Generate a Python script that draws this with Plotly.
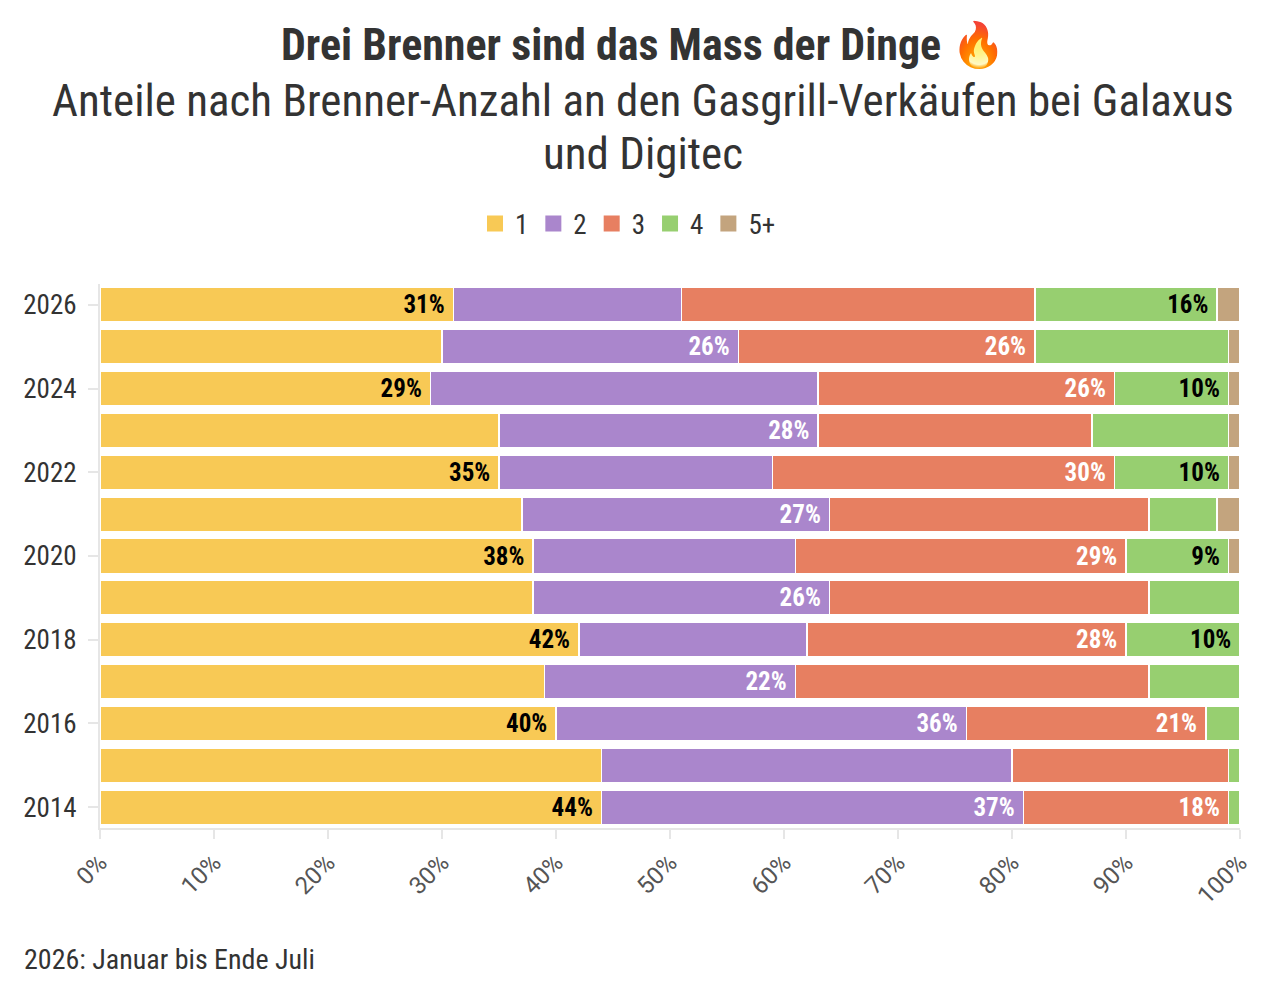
import plotly.graph_objects as go

# years on the y axis (bottom to top)
years = [2014, 2015, 2016, 2017, 2018, 2019, 2020, 2021, 2022, 2023, 2024, 2025, 2026]

# share of sales per number of burners, in percent
b1 = [44, 44, 40, 39, 42, 38, 38, 37, 35, 35, 29, 30, 31]
b2 = [37, 36, 36, 22, 20, 26, 23, 27, 24, 28, 34, 26, 20]
b3 = [18, 19, 21, 31, 28, 28, 29, 28, 30, 24, 26, 26, 31]
b4 = [1, 1, 3, 8, 10, 8, 9, 6, 10, 12, 10, 17, 16]
b5 = [0, 0, 0, 0, 0, 0, 1, 2, 1, 1, 1, 1, 2]

# which values get a label in the bar
lab1 = ["44%", "", "40%", "", "42%", "", "38%", "", "35%", "", "29%", "", "31%"]
lab2 = ["37%", "", "36%", "22%", "", "26%", "", "27%", "", "28%", "", "26%", ""]
lab3 = ["18%", "", "21%", "", "28%", "", "29%", "", "30%", "", "26%", "26%", ""]
lab4 = ["", "", "", "", "10%", "", "9%", "", "10%", "", "10%", "", "16%"]
lab5 = [""] * 13

series = ["1", "2", "3", "4", "5+"]
colors = ["#F8C955", "#AA86CC", "#E77F61", "#97CF70", "#C3A47E"]
text_colors = ["#000000", "#ffffff", "#ffffff", "#000000", "#000000"]

xticks = list(range(0, 101, 10))
xtick_text = [f"{v}%" for v in xticks]
yticks = list(range(2014, 2027, 2))

font_c = "Roboto Condensed, Liberation Sans Narrow, DejaVu Sans Condensed, Roboto, sans-serif"

# page is drawn with an 8px body margin, so work in page pixels and convert
W, H = 1256, 974
L, R, T, B = 100 - 8, 1240 - 8, 284 - 8, 828.5 - 8


def px(xp):
    return (xp - 8 - L) / (R - L)


def py(yp):
    return (B - (yp - 8)) / (B - T)


fig = go.Figure()
for name, vals, labs, col, tcol in zip(series, [b1, b2, b3, b4, b5],
                                       [lab1, lab2, lab3, lab4, lab5],
                                       colors, text_colors):
    fig.add_trace(go.Bar(
        y=years, x=vals, name=name, orientation="h", showlegend=False,
        marker=dict(color=col, line=dict(color="white", width=1.5)),
        text=labs, texttemplate="<b>%{text}</b>\u00a0",
        textposition="inside", insidetextanchor="end",
        textfont=dict(color=tcol, size=25, family=font_c),
        constraintext="none", cliponaxis=False,
        hoverinfo="skip",
    ))
    # bigger legend swatch
    fig.add_trace(go.Scatter(
        x=[None], y=[None], mode="markers", name=name,
        marker=dict(symbol="square", size=16, color=col),
        hoverinfo="skip",
    ))

fig.update_layout(
    width=W, height=H,
    barmode="stack", bargap=0.175,
    paper_bgcolor="white", plot_bgcolor="white",
    font=dict(family=font_c, color="#333333"),
    margin=dict(l=L, r=W - R, t=T, b=H - B),
    legend=dict(orientation="h", xref="container", yref="container",
                x=620 / W, xanchor="center", y=1 - 216 / H, yanchor="middle",
                font=dict(size=27, color="#333333"), traceorder="normal",
                itemsizing="trace", itemwidth=30, itemclick=False),
)

fig.update_xaxes(
    range=[0, 100], tickmode="array", tickvals=xticks, ticktext=xtick_text,
    tickangle=-45, showgrid=False, zeroline=False,
    showline=True, linecolor="#e6e6e6", linewidth=2,
    ticks="outside", ticklen=9, tickcolor="#e6e6e6", tickwidth=2,
    tickfont=dict(size=24, color="#555555", family="Roboto, sans-serif"),
)
fig.update_yaxes(
    range=[2013.5, 2026.5], tickmode="array", tickvals=yticks,
    showgrid=False, zeroline=False,
    showline=True, linecolor="#e6e6e6", linewidth=2,
    ticks="outside", ticklen=10, tickcolor="#e6e6e6", tickwidth=2,
    ticklabelstandoff=6,
    tickfont=dict(size=27, color="#333333"),
)

# title, subtitle and note
fig.add_annotation(text="<b>Drei Brenner sind das Mass der Dinge 🔥</b>",
                   xref="paper", yref="paper", x=px(643), y=py(45),
                   showarrow=False, font=dict(size=44, color="#333333"),
                   xanchor="center", yanchor="middle")
fig.add_annotation(text="Anteile nach Brenner-Anzahl an den Gasgrill-Verkäufen bei Galaxus",
                   xref="paper", yref="paper", x=px(643), y=py(100),
                   showarrow=False, font=dict(size=45, color="#333333"),
                   xanchor="center", yanchor="middle")
fig.add_annotation(text="und Digitec",
                   xref="paper", yref="paper", x=px(643), y=py(153),
                   showarrow=False, font=dict(size=45, color="#333333"),
                   xanchor="center", yanchor="middle")
fig.add_annotation(text="2026: Januar bis Ende Juli",
                   xref="paper", yref="paper", x=px(22), y=py(960),
                   showarrow=False, font=dict(size=28, color="#333333"),
                   xanchor="left", yanchor="middle")

fig.write_html("out.html")
